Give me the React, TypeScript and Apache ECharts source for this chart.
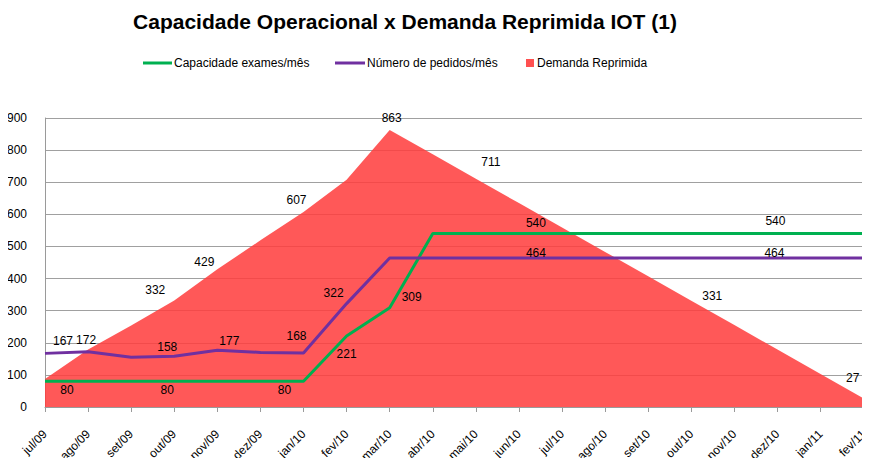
import React, { useEffect, useRef } from "react";
import * as echarts from "echarts";

const categories = [
  "jul/09", "ago/09", "set/09", "out/09", "nov/09", "dez/09",
  "jan/10", "fev/10", "mar/10", "abr/10", "mai/10", "jun/10",
  "jul/10", "ago/10", "set/10", "out/10", "nov/10", "dez/10",
  "jan/11", "fev/11",
];

const capacidade = [80, 80, 80, 80, 80, 80, 80, 221, 309, 540, 540, 540, 540, 540, 540, 540, 540, 540, 540, 540];
const pedidos = [167, 172, 155, 158, 177, 170, 168, 322, 464, 464, 464, 464, 464, 464, 464, 464, 464, 464, 464, 464];
const demanda = [87, 179, 254, 332, 429, 519, 607, 708, 863, 787, 711, 635, 559, 483, 407, 331, 255, 179, 103, 27];

const yTicks = [0, 100, 200, 300, 400, 500, 600, 700, 800, 900];

const seriesNames = ["Capacidade exames/mês", "Número de pedidos/mês", "Demanda Reprimida"];

// which points carry a data label
const capLabelIdx = [0, 3, 6, 7, 8, 11, 17];
const pedLabelIdx = [0, 1, 3, 4, 6, 7, 11, 17];
const demLabelIdx = [3, 4, 6, 8, 10, 15, 19];

const FONT = "Liberation Sans, Arial, sans-serif";

type LabelPlace = { position: string; offset: [number, number] };

const capPlace: Record<number, LabelPlace> = {
  0: { position: "bottom", offset: [22, -3] },
  3: { position: "bottom", offset: [-7, -3] },
  6: { position: "bottom", offset: [-19, -3] },
  7: { position: "bottom", offset: [0, 6] },
  8: { position: "right", offset: [6, -11] },
  11: { position: "top", offset: [17, 1] },
  17: { position: "top", offset: [-2, -1] },
};
const pedPlace: Record<number, LabelPlace> = {
  0: { position: "top", offset: [18, 0] },
  1: { position: "top", offset: [-2, 0] },
  3: { position: "top", offset: [-7, 3] },
  4: { position: "top", offset: [12, 3] },
  6: { position: "top", offset: [-7, -5] },
  7: { position: "top", offset: [-13, 1] },
  11: { position: "top", offset: [17, 7] },
  17: { position: "top", offset: [-3, 7] },
};
const demPlace: Record<number, LabelPlace> = {
  3: { position: "top", offset: [-19, 2] },
  4: { position: "top", offset: [-13, 5] },
  6: { position: "top", offset: [-7, 0] },
  8: { position: "top", offset: [2, 0] },
  10: { position: "top", offset: [15, -5] },
  15: { position: "top", offset: [21, 7] },
  19: { position: "top", offset: [-11, -8] },
};

function buildData(values: number[], idx: number[], places: Record<number, LabelPlace>) {
  return values.map((v, i) => {
    if (!idx.includes(i)) return { value: v, label: { show: false } };
    const p = places[i];
    return {
      value: v,
      label: {
        show: true,
        position: p.position,
        offset: p.offset,
        color: "#000",
        opacity: 1,
        fontSize: 12,
        fontFamily: FONT,
      },
    };
  });
}

export default function App() {
  const ref = useRef<HTMLDivElement>(null);

  useEffect(() => {
    if (!ref.current) return;
    const chart = echarts.init(ref.current, null, { renderer: "svg" });
    const legendY = 63;
    const hiddenSymbol = {
      symbol: "circle",
      symbolSize: 2,
      showSymbol: true,
      itemStyle: { color: "rgba(0,0,0,0)", borderWidth: 0 },
    };
    chart.setOption({
      animation: false,
      backgroundColor: "#ffffff",
      title: {
        text: "Capacidade Operacional x Demanda Reprimida IOT (1)",
        left: 400,
        textAlign: "center",
        top: 6,
        textStyle: { fontFamily: FONT, fontSize: 21, fontWeight: "bold", color: "#000" },
      },
      grid: { left: 45, right: 4, top: 118, bottom: 59, containLabel: false },
      xAxis: {
        type: "category",
        data: categories,
        boundaryGap: false,
        axisLine: { show: true, lineStyle: { color: "#9a9a9a" } },
        axisTick: { show: true, length: 5, alignWithLabel: true, lineStyle: { color: "#9a9a9a" } },
        axisLabel: {
          rotate: 45,
          interval: 0,
          fontSize: 12,
          fontFamily: FONT,
          color: "#000",
          margin: 25,
        },
        splitLine: { show: false },
      },
      yAxis: {
        type: "value",
        min: yTicks[0],
        max: yTicks[yTicks.length - 1],
        interval: 100,
        axisLine: { show: true, lineStyle: { color: "#9a9a9a" } },
        axisTick: { show: false },
        axisLabel: { fontSize: 12, fontFamily: FONT, color: "#000", margin: 18 },
        splitLine: { show: true, lineStyle: { color: "#a0a0a0", width: 1 } },
      },
      series: [
        {
          name: seriesNames[2],
          type: "line",
          data: buildData(demanda, demLabelIdx, demPlace),
          ...hiddenSymbol,
          lineStyle: { width: 0 },
          areaStyle: { color: "#ff3c3c", opacity: 0.86 },
          z: 1,
        },
        {
          name: seriesNames[0],
          type: "line",
          data: buildData(capacidade, capLabelIdx, capPlace),
          ...hiddenSymbol,
          lineStyle: { color: "#00b050", width: 3 },
          z: 3,
        },
        {
          name: seriesNames[1],
          type: "line",
          data: buildData(pedidos, pedLabelIdx, pedPlace),
          ...hiddenSymbol,
          lineStyle: { color: "#7030a0", width: 3 },
          z: 3,
        },
      ],
      graphic: [
        { type: "line", shape: { x1: 143, y1: legendY, x2: 172, y2: legendY }, style: { stroke: "#00b050", lineWidth: 3 } },
        { type: "text", x: 174, y: legendY, style: { text: seriesNames[0], fontSize: 12, fontFamily: FONT, fill: "#000", textVerticalAlign: "middle" } },
        { type: "line", shape: { x1: 335, y1: legendY, x2: 365, y2: legendY }, style: { stroke: "#7030a0", lineWidth: 3 } },
        { type: "text", x: 367, y: legendY, style: { text: seriesNames[1], fontSize: 12, fontFamily: FONT, fill: "#000", textVerticalAlign: "middle" } },
        { type: "rect", shape: { x: 526, y: legendY - 4, width: 8, height: 8 }, style: { fill: "#ff5050" } },
        { type: "text", x: 537, y: legendY, style: { text: seriesNames[2], fontSize: 12, fontFamily: FONT, fill: "#000", textVerticalAlign: "middle" } },
      ],
    });
    return () => chart.dispose();
  }, []);

  return <div ref={ref} style={{ width: 870, height: 466, margin: -8 }} />;
}
